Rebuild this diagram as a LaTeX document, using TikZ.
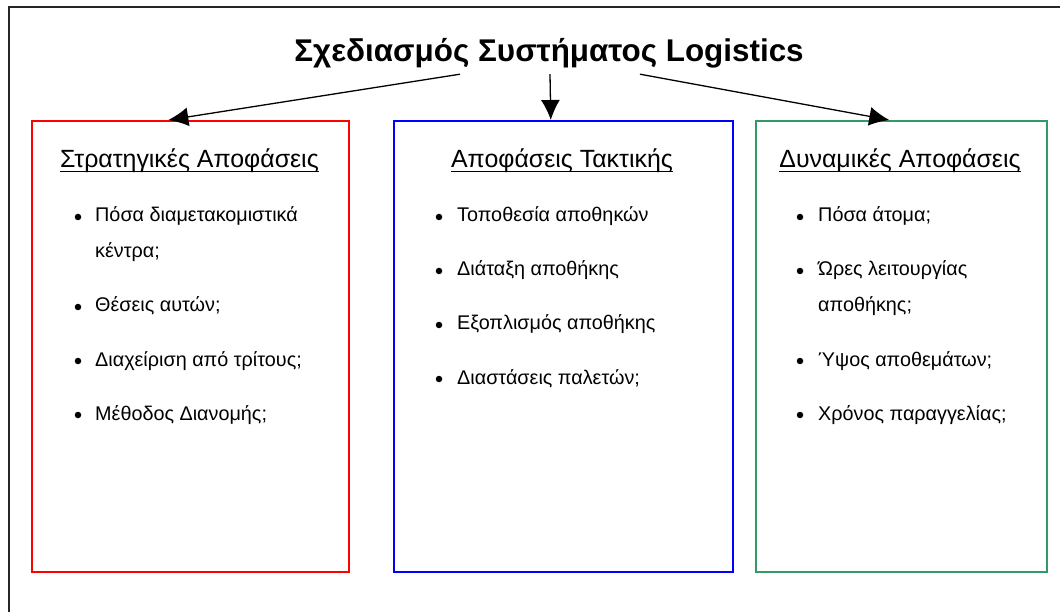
\documentclass[tikz,border=0pt]{standalone}
\usepackage{fontspec}
\setmainfont{Liberation Sans}
\usetikzlibrary{arrows.meta}
\usetikzlibrary{positioning}
\definecolor{seagreen}{RGB}{51,153,102}
\newcommand{\underlined}[1]{\setbox0\hbox{#1}\rlap{\rule[-4.5pt]{\wd0}{1.3pt}}\box0}
\tikzset{%
	>={Latex[width=19pt,length=20pt]},
	% Specifications for style of nodes:
	panel/.style = {rectangle, draw, line width=1.6pt, anchor=north west,
				   minimum height=451pt, inner sep=0pt},
	strategic/.style = {panel, draw=red, minimum width=317pt},
	tactical/.style = {panel, draw=blue, minimum width=339pt},
	dynamic/.style = {panel, draw=seagreen, minimum width=291pt},
	heading/.style = {anchor=base, inner sep=0pt,
				   font=\fontsize{24.9}{29}\selectfont},
	point/.style = {anchor=base west, align=left, inner sep=0pt,
				   font=\fontsize{19.8}{36}\selectfont},
	dot/.style = {circle, fill=black, inner sep=0pt, minimum size=6.5pt},
}

\begin{document}
\begin{tikzpicture}[x=1pt, y=-1pt]
	\useasboundingbox (0,0) rectangle (1060,612);
	\clip (0,0) rectangle (1060,612);

	% outer frame (cut by the page at right and bottom)
	\draw[line width=1.8pt, black!85] (9,7) rectangle (1075,630);

	% Specification of nodes (position, etc.)

	\node (title)   [anchor=base, inner sep=2pt, text depth=10pt,
					 font=\bfseries\fontsize{31.4}{36}\selectfont] at (549,62) {Σχεδιασμός Συστήματος Logistics};

	\node (strat)   [strategic] at (31,120)  {};
	\node (tact)    [tactical]  at (393,120) {};
	\node (dyn)     [dynamic]   at (755,120) {};

	\node (stratHead) [heading] at (189.5,168) {\underlined{Στρατηγικές Αποφάσεις}};
	\node (tactHead)  [heading] at (562,168)   {\underlined{Αποφάσεις Τακτικής}};
	\node (dynHead)   [heading] at (900,168)   {\underlined{Δυναμικές Αποφάσεις}};

	% strategic decisions (base = last line)
	\node (s1) [point] at (95,258) {Πόσα διαμετακομιστικά\\κέντρα;};
	\node (s2) [point] at (95,312) {Θέσεις αυτών;};
	\node (s3) [point] at (95,366) {Διαχείριση από τρίτους;};
	\node (s4) [point] at (95,420) {Μέθοδος Διανομής;};
	\node (s1dot) [dot] at (78,217) {};
	\node (s2dot) [dot] at (78,307) {};
	\node (s3dot) [dot] at (78,361) {};
	\node (s4dot) [dot] at (78,415) {};

	% tactical decisions
	\node (t1) [point] at (457,222) {Τοποθεσία αποθηκών};
	\node (t2) [point] at (457,276) {Διάταξη αποθήκης};
	\node (t3) [point] at (457,330) {Εξοπλισμός αποθήκης};
	\node (t4) [point] at (457,384) {Διαστάσεις παλετών;};
	\node (t1dot) [dot] at (439,217) {};
	\node (t2dot) [dot] at (439,271) {};
	\node (t3dot) [dot] at (439,325) {};
	\node (t4dot) [dot] at (439,379) {};

	% dynamic decisions
	\node (d1) [point] at (818,222) {Πόσα άτομα;};
	\node (d2) [point] at (818,312) {Ώρες λειτουργίας\\αποθήκης;};
	\node (d3) [point] at (818,366) {Ύψος αποθεμάτων;};
	\node (d4) [point] at (818,420) {Χρόνος παραγγελίας;};
	\node (d1dot) [dot] at (800,217) {};
	\node (d2dot) [dot] at (800,271) {};
	\node (d3dot) [dot] at (800,361) {};
	\node (d4dot) [dot] at (800,415) {};

	% Specification of lines between nodes specified above

	\draw[->, line width=1.3pt] ([xshift=-89pt]title.south) -- ([xshift=-22pt]strat.north);
	\draw[->, line width=1.3pt] ([xshift=1pt]title.south)   -- ([xshift=-12.5pt]tact.north);
	\draw[->, line width=1.3pt] ([xshift=91pt]title.south)  -- ([xshift=-12pt]dyn.north);

\end{tikzpicture}
\end{document}
